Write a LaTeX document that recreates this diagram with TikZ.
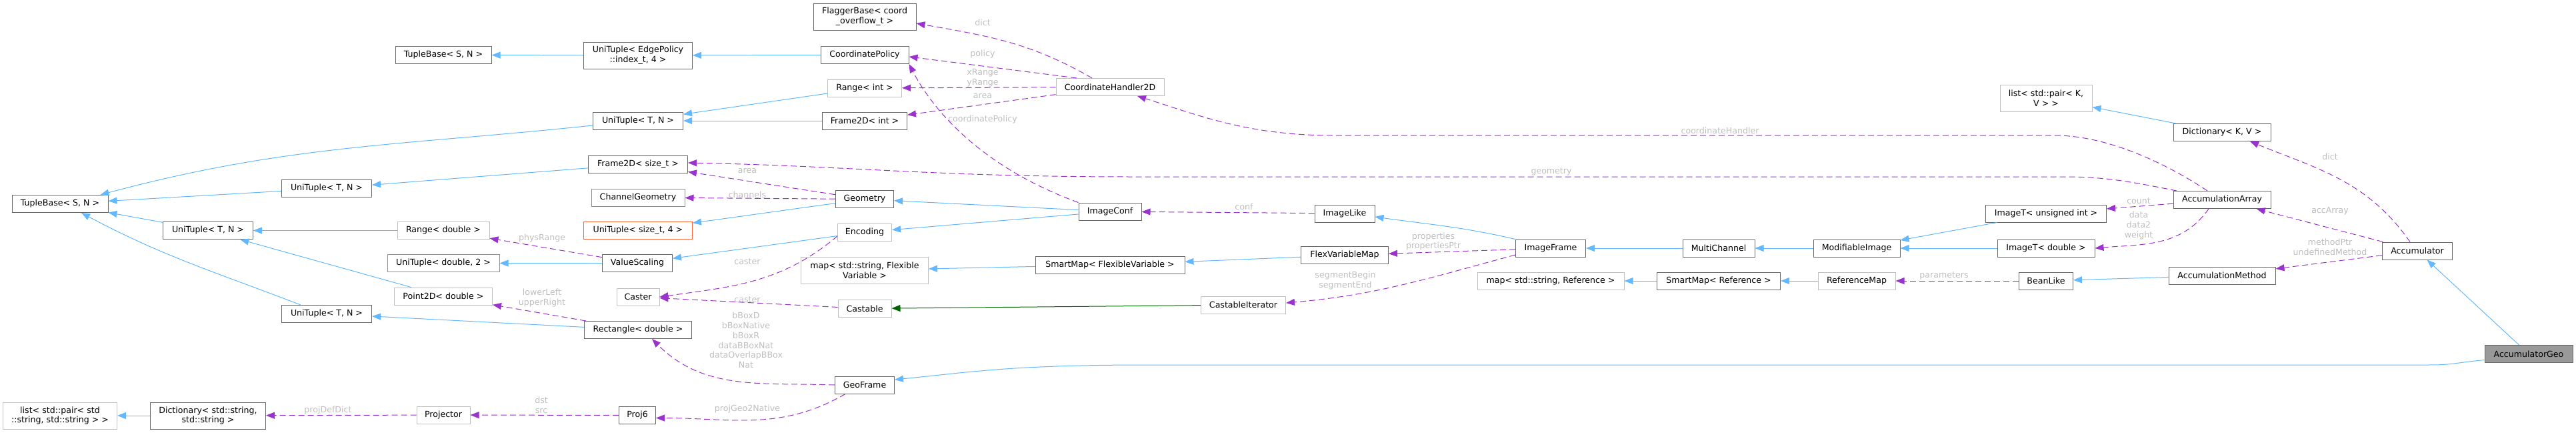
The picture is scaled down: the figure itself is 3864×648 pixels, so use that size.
\documentclass[tikz,border=0pt]{standalone}
\usepackage{fontspec}
\setmainfont{DejaVu Sans}
\usetikzlibrary{arrows.meta}
\definecolor{edgeblue}{HTML}{63B8FF}
\definecolor{usepurple}{HTML}{9A32CD}
\definecolor{protgreen}{HTML}{006400}
\definecolor{boxgray}{HTML}{666666}
\definecolor{extgray}{HTML}{BFBFBF}
\definecolor{truncred}{HTML}{F4683A}
\definecolor{focusgray}{HTML}{999999}
\definecolor{labelgray}{HTML}{BEBEBE}

\begin{document}
\begin{tikzpicture}[x=1pt,y=-1pt,font=\fontsize{12.6}{14.8}\selectfont,
  cls/.style={draw=boxgray,fill=white,line width=1pt,inner xsep=7pt,inner ysep=2pt,minimum height=26pt,align=center},
  ext/.style={cls,draw=extgray},
  trunc/.style={cls,draw=truncred},
  focus/.style={cls,fill=focusgray},
  tall/.style={minimum height=40pt},
  lbl/.style={text=labelgray,align=center,inner sep=0pt},
  inh/.style={draw=edgeblue,line width=1pt,-{Triangle[length=13pt,width=10pt]}},
  prot/.style={inh,draw=protgreen},
  use/.style={draw=usepurple,line width=1pt,dash pattern=on 9pt off 5pt,-{Triangle[length=13pt,width=10pt]}}]
\useasboundingbox (0,0) rectangle (3864,648);

\node[cls,minimum width=144pt] (tbTop) at (665,82.5) {TupleBase< S, N >};
\node[cls,minimum width=144pt] (tbLeft) at (90,305.5) {TupleBase< S, N >};
\node[cls,tall,minimum width=163pt] (utEdge) at (957,83) {UniTuple< EdgePolicy\\::index\_t, 4 >};
\node[cls,tall,minimum width=154pt] (flagger) at (1297,25) {FlaggerBase< coord\\\_overflow\_t >};
\node[cls,minimum width=132pt] (coordPol) at (1297,82.5) {CoordinatePolicy};
\node[ext,minimum width=111pt] (rangeInt) at (1297,132) {Range< int >};
\node[cls,minimum width=135pt] (utA) at (957,181) {UniTuple< T, N >};
\node[cls,minimum width=127pt] (frameInt) at (1297,181) {Frame2D< int >};
\node[ext,minimum width=162pt] (ch2d) at (1665,130.5) {CoordinateHandler2D};
\node[cls,minimum width=135pt] (utB) at (490,282.5) {UniTuple< T, N >};
\node[cls,minimum width=149pt] (frameSize) at (957,246) {Frame2D< size\_t >};
\node[trunc,minimum width=140pt] (chanGeom) at (957,296) {ChannelGeometry};
\node[cls,minimum width=87pt] (geometry) at (1297,298.5) {Geometry};
\node[cls,minimum width=94pt] (imageConf) at (1665,317) {ImageConf};
\node[cls,minimum width=90pt] (imageLike) at (2017,320) {ImageLike};
\node[cls,minimum width=135pt] (utC) at (312,345.5) {UniTuple< T, N >};
\node[ext,minimum width=138pt] (rangeDbl) at (665,345.5) {Range< double >};
\node[trunc,minimum width=163pt] (utSize) at (957,345.5) {UniTuple< size\_t, 4 >};
\node[ext,minimum width=81pt] (encoding) at (1297,348) {Encoding};
\node[trunc,minimum width=168pt] (utDbl) at (665,394.5) {UniTuple< double, 2 >};
\node[cls,minimum width=105pt] (valScale) at (956,394.5) {ValueScaling};
\node[ext,tall,minimum width=191pt] (mapFlex) at (1297,405) {map< std::string, Flexible\\Variable >};
\node[cls,minimum width=224pt] (smartFlex) at (1665,397) {SmartMap< FlexibleVariable >};
\node[cls,minimum width=131pt] (flexMap) at (2017,382.5) {FlexVariableMap};
\node[cls,minimum width=105pt] (imageFrame) at (2326,372) {ImageFrame};
\node[cls,minimum width=108pt] (multiCh) at (2578,372) {MultiChannel};
\node[cls,minimum width=130pt] (modImg) at (2785,372) {ModifiableImage};
\node[cls,minimum width=181pt] (imgUint) at (3069,320) {ImageT< unsigned int >};
\node[cls,minimum width=146pt] (imgDbl) at (3069,372) {ImageT< double >};
\node[cls,minimum width=146pt] (accArr) at (3333,299.5) {AccumulationArray};
\node[cls,minimum width=146pt] (dictKV) at (3333,198.5) {Dictionary< K, V >};
\node[ext,tall,minimum width=138pt] (listKV) at (3069,147) {list< std::pair< K,\\V > >};
\node[cls,minimum width=160pt] (accMeth) at (3333,413) {AccumulationMethod};
\node[cls,minimum width=81pt] (beanLike) at (3069,421) {BeanLike};
\node[ext,minimum width=116pt] (refMap) at (2785,421) {ReferenceMap};
\node[cls,minimum width=185pt] (smartRef) at (2578,421) {SmartMap< Reference >};
\node[ext,minimum width=220pt] (mapRef) at (2326,421) {map< std::string, Reference >};
\node[cls,minimum width=105pt] (accum) at (3626,376) {Accumulator};
\node[focus,minimum width=132pt] (accGeo) at (3793,530.5) {AccumulatorGeo};
\node[ext,minimum width=147pt] (point2d) at (665,444) {Point2D< double >};
\node[ext,minimum width=64pt] (caster) at (957,445) {Caster};
\node[ext,minimum width=80pt] (castable) at (1297,462.5) {Castable};
\node[ext,minimum width=127pt] (castIter) at (1865,457) {CastableIterator};
\node[cls,minimum width=135pt] (utD) at (490,470.5) {UniTuple< T, N >};
\node[cls,minimum width=161pt] (rectDbl) at (957,494.5) {Rectangle< double >};
\node[cls,minimum width=89pt] (geoFrame) at (1297,577) {GeoFrame};
\node[ext,tall,minimum width=171pt] (listStr) at (90,623) {list< std::pair< std\\::string, std::string > >};
\node[cls,tall,minimum width=173pt] (dictStr) at (312,623) {Dictionary< std::string,\\std::string >};
\node[ext,minimum width=80pt] (projector) at (665,622) {Projector};
\node[cls,minimum width=55pt] (proj6) at (956,622.5) {Proj6};

\node[lbl] (lFlagDict) at (1474,34) {dict};
\node[lbl] (lPolicy) at (1474,81) {policy};
\node[lbl] (lRanges) at (1474,116.5) {xRange\\yRange};
\node[lbl] (lAreaInt) at (1474,144) {area};
\node[lbl] (lCoordPol) at (1474,179) {coordinatePolicy};
\node[lbl] (lCoordHdl) at (2580,196) {coordinateHandler};
\node[lbl] (lGeometry) at (2327,257) {geometry};
\node[lbl] (lAreaSize) at (1121,256) {area};
\node[lbl] (lChannels) at (1121,292) {channels};
\node[lbl] (lPhysRange) at (813,357) {physRange};
\node[lbl] (lCorners) at (813,446.5) {lowerLeft\\upperRight};
\node[lbl] (lCasterA) at (1121,392) {caster};
\node[lbl] (lCasterB) at (1121,449) {caster};
\node[lbl] (lBBox) at (1119,510) {bBoxD\\bBoxNative\\bBoxR\\dataBBoxNat\\dataOverlapBBox\\Nat};
\node[lbl] (lProjGeo) at (1121,613) {projGeo2Native};
\node[lbl] (lDstSrc) at (812,607.5) {dst\\src};
\node[lbl] (lProjDef) at (492,615) {projDefDict};
\node[lbl] (lConf) at (1866,310) {conf};
\node[lbl] (lProps) at (2150,362) {properties\\propertiesPtr};
\node[lbl] (lSegment) at (2018,420.5) {segmentBegin\\segmentEnd};
\node[lbl] (lParams) at (2916,413) {parameters};
\node[lbl] (lCount) at (3208,301) {count};
\node[lbl] (lData) at (3208,338) {data\\data2\\weight};
\node[lbl] (lAccArray) at (3495,316) {accArray};
\node[lbl] (lMethod) at (3495,370.5) {methodPtr\\undefinedMethod};
\node[lbl] (lDictKV) at (3495,235) {dict};

\draw[inh] (coordPol) -- (utEdge);
\draw[inh] (utEdge) -- (tbTop);
\draw[inh] (rangeInt) -- (utA);
\draw[inh] (frameInt) -- (utA);
\draw[inh] ([yshift=-7pt]utA.west) to[out=186,in=15] ([xshift=-12pt]tbLeft.north east);
\draw[inh] (frameSize) -- (utB);
\draw[inh] (utB) -- (tbLeft);
\draw[inh] (utC) -- (tbLeft);
\draw[inh] ([xshift=29pt]utD.north west) to[out=159,in=-28] ([xshift=32pt]tbLeft.south);
\draw[inh] (rangeDbl) -- (utC);
\draw[inh] (point2d) -- (utC);
\draw[inh] (rectDbl) -- (utD);
\draw[inh] (valScale) -- (utDbl);
\draw[inh] (geometry) -- (utSize);
\draw[inh] (imageConf) -- (geometry);
\draw[inh] (imageConf) -- (encoding);
\draw[inh] (encoding) -- (valScale);
\draw[inh] (smartFlex) -- (mapFlex);
\draw[inh] (flexMap) -- (smartFlex);
\draw[inh] (imageFrame.north west) to[out=167,in=-8] ([yshift=-5pt]imageLike.east);
\draw[inh] (multiCh) -- (imageFrame);
\draw[inh] (modImg) -- (multiCh);
\draw[inh] (imgUint) -- (modImg);
\draw[inh] (imgDbl) -- (modImg);
\draw[inh] (refMap) -- (smartRef);
\draw[inh] (smartRef) -- (mapRef);
\draw[inh] (accMeth) -- (beanLike);
\draw[inh] (dictKV) -- (listKV);
\draw[inh] (accGeo) -- (accum);
\draw[inh] ([yshift=-9pt]accGeo.west) .. controls +(-50,5) and +(40,0) .. (3640,547) -- (1720,547) .. controls +(-200,0) and +(120,-12) .. ([yshift=8pt]geoFrame.east);
\draw[inh] (dictStr) -- (listStr);
\draw[prot] (castIter) -- (castable);

\draw[use] ([xshift=-27pt]ch2d.north) to[out=150,in=-10] ([yshift=-10pt]flagger.east);
\draw[use] ([xshift=-50pt]ch2d.north) -- ([yshift=-2.5pt]coordPol.east);
\draw[use] (ch2d) -- (rangeInt);
\draw[use] (ch2d) -- (frameInt);
\draw[use] (imageConf.north west) .. controls +(-148,-54) and +(35,67) .. (coordPol.south east);
\draw[use] ([xshift=-22pt]accArr.north) .. controls +(-60,-40) and +(80,0) .. (3082,203) -- (2000,203) .. controls +(-130,0) and +(90,28) .. ([xshift=41pt]ch2d.south);
\draw[use] ([xshift=-68pt]accArr.north) .. controls +(-60,-12) and +(60,0) .. (3100,265) -- (1700,265) .. controls +(-300,0) and +(250,5) .. ([yshift=2pt]frameSize.east);
\draw[use] (geometry) -- (frameSize);
\draw[use] (geometry) -- (chanGeom);
\draw[use] (valScale) -- (rangeDbl);
\draw[use] (rectDbl) -- (point2d);
\draw[use] ([yshift=-6pt]encoding.west) to[out=220,in=8] (caster.east);
\draw[use] (castable) -- (caster);
\draw[use] (geoFrame.west) to[out=178,in=-45] ([xshift=21pt]rectDbl.south);
\draw[use] ([xshift=-29pt]geoFrame.south) to[out=210,in=0] ([yshift=-4pt]proj6.east);
\draw[use] (proj6) -- (projector);
\draw[use] (projector) -- (dictStr);
\draw[use] (imageLike) -- (imageConf);
\draw[use] (imageFrame) -- (flexMap);
\draw[use] ([yshift=-10pt]imageFrame.west) to[out=195,in=5] ([yshift=3pt]castIter.east);
\draw[use] (beanLike) -- (refMap);
\draw[use] (accArr) -- (imgUint);
\draw[use] ([xshift=-20pt]accArr.south) to[out=235,in=5] (imgDbl.east);
\draw[use] (accum) -- (accArr);
\draw[use] (accum) -- (accMeth);
\draw[use] ([xshift=-11pt]accum.north) to[out=125,in=-22] ([xshift=42pt]dictKV.south);
\end{tikzpicture}
\end{document}
